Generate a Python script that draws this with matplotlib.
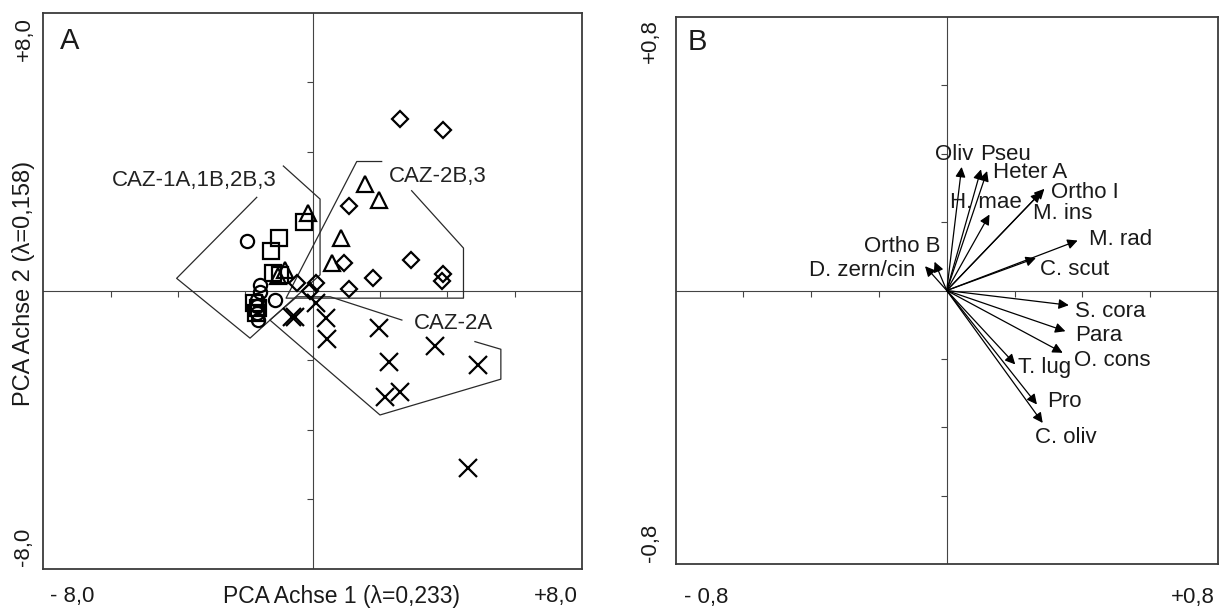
import matplotlib
matplotlib.use("Agg")
import matplotlib.pyplot as plt
from matplotlib.markers import TICKDOWN, TICKLEFT

plt.rcParams['font.family'] = ['Liberation Sans', 'DejaVu Sans']

# ---------------- Panel A data (PCA sample scores) ----------------
circle_x = [-1.96, -1.56, -1.56, -1.66, -1.66, -1.66, -1.61, -1.12]
circle_y = [1.44, 0.17, -0.02, -0.26, -0.45, -0.64, -0.84, -0.26]

square_x = [-0.25, -1.00, -1.24, -1.17, -0.97, -1.75, -1.63, -1.69]
square_y = [1.97, 1.51, 1.15, 0.51, 0.46, -0.35, -0.49, -0.64]

triangle_x = [1.56, 1.97, 0.83, 0.57, -0.13, -0.82, -1.03]
triangle_y = [3.07, 2.61, 1.53, 0.79, 2.23, 0.60, 0.43]

diamond_x = [2.58, 3.88, 1.08, 0.94, 2.92, 1.80, 3.88, 3.83, 1.08, -0.47, 0.09, -0.08]
diamond_y = [4.94, 4.63, 2.44, 0.79, 0.89, 0.38, 0.48, 0.27, 0.05, 0.22, 0.22, 0.00]

cross_x = [-0.62, -0.52, 0.09, 0.39, 0.42, 1.98, 3.64, 4.92, 2.28, 2.15, 2.60, 4.62]
cross_y = [-0.74, -0.74, -0.36, -0.79, -1.39, -1.08, -1.60, -2.13, -2.04, -3.04, -2.90, -5.10]

# group outlines (open hulls, gap where the label sits)
hull_1_x = [-1.66, -4.04, -1.86, 0.22, 0.22, -0.87]
hull_1_y = [2.69, 0.36, -1.36, 0.46, 2.64, 3.59]
hull_2_x = [2.05, 1.31, -0.79, 4.48, 4.48, 2.94]
hull_2_y = [3.72, 3.72, -0.21, -0.21, 1.23, 2.88]
hull_3_x = [2.65, 0.52, -0.47, -1.27, 2.00, 5.59, 5.59, 4.82]
hull_3_y = [-0.84, -0.17, -0.17, -0.84, -3.57, -2.54, -1.68, -1.46]

group_labels = ["CAZ-1A,1B,2B,3", "CAZ-2B,3", "CAZ-2A"]
group_label_x = [-5.96, 2.27, 3.01]
group_label_y = [3.16, 3.30, -0.95]

# ---------------- Panel B data (species loadings) ----------------
species = ["Oliv", "Pseu", "Heter A", "H. mae", "Ortho I", "M. ins", "M. rad",
           "C. scut", "Ortho B", "D. zern/cin", "S. cora", "Para", "O. cons",
           "T. lug", "Pro", "C. oliv"]
load_x = [0.044, 0.101, 0.119, 0.126, 0.288, 0.278, 0.386, 0.263, -0.036, -0.064,
          0.360, 0.350, 0.342, 0.202, 0.266, 0.283]
load_y = [0.361, 0.354, 0.349, 0.222, 0.297, 0.287, 0.146, 0.095, 0.084, 0.071,
          -0.043, -0.119, -0.182, -0.216, -0.333, -0.387]
label_x = [-0.036, 0.097, 0.136, 0.009, 0.307, 0.254, 0.420, 0.274, -0.245, -0.405,
           0.378, 0.378, 0.375, 0.209, 0.295, 0.259]
label_y = [0.397, 0.397, 0.344, 0.256, 0.285, 0.225, 0.148, 0.061, 0.128, 0.059,
           -0.060, -0.131, -0.205, -0.226, -0.325, -0.430]

ticks_A = [-6, -4, -2, 2, 4, 6]
ticks_B = [-0.6, -0.4, -0.2, 0.2, 0.4, 0.6]

FS = 16
TXT = '#1a1a1a'
W, H = 1219, 610
fig = plt.figure(figsize=(W / 100, H / 100), dpi=100)
fig.patch.set_facecolor('white')

axA = fig.add_axes([43.3 / W, 1 - 569 / H, (582 - 43.3) / W, (569 - 12.7) / H])
axB = fig.add_axes([675.5 / W, 1 - 564.3 / H, (1218 - 675.5) / W, (564.3 - 16.7) / H])


def frame(ax, lim, ticks):
    ax.set_xlim(-lim, lim)
    ax.set_ylim(-lim, lim)
    ax.set_xticks([])
    ax.set_yticks([])
    for s in ax.spines.values():
        s.set_color('#3a3a3a')
        s.set_linewidth(1.3)
    ax.axhline(0, color='#444444', lw=0.8, zorder=1)
    ax.axvline(0, color='#444444', lw=0.8, zorder=1)
    ax.plot(ticks, [0] * len(ticks), ls='none', marker=TICKDOWN, ms=4,
            mew=0.8, color='#444444', zorder=1)
    ax.plot([0] * len(ticks), ticks, ls='none', marker=TICKLEFT, ms=4,
            mew=0.8, color='#444444', zorder=1)


frame(axA, 8, ticks_A)
frame(axB, 0.8, ticks_B)

# ---- Panel A ----
for hx, hy in [(hull_1_x, hull_1_y), (hull_2_x, hull_2_y), (hull_3_x, hull_3_y)]:
    axA.plot(hx, hy, color='#2a2a2a', lw=0.9, zorder=2)

mk = dict(ls='none', mfc='none', mec='black', mew=1.6, zorder=3)
axA.plot(circle_x, circle_y, marker='o', ms=9.5, **mk)
axA.plot(square_x, square_y, marker='s', ms=12, **mk)
axA.plot(triangle_x, triangle_y, marker='^', ms=11.5, **mk)
axA.plot(diamond_x, diamond_y, marker='D', ms=7.8, **mk)
axA.plot(cross_x, cross_y, marker='x', ms=12.5, **mk)

for t, x, y in zip(group_labels, group_label_x, group_label_y):
    axA.text(x, y, t, fontsize=FS, ha='left', va='center', color='#222222')

axA.text(0.031, 0.949, "A", transform=axA.transAxes, fontsize=21,
         ha='left', va='center', color=TXT)
axA.text(0.012, -0.05, "- 8,0", transform=axA.transAxes, fontsize=FS,
         ha='left', va='center', color=TXT)
axA.text(0.9926, -0.05, "+8,0", transform=axA.transAxes, fontsize=FS,
         ha='right', va='center', color=TXT)
axA.text(0.554, -0.05, "PCA Achse 1 (\u03bb=0,233)", transform=axA.transAxes,
         fontsize=16.5, ha='center', va='center', color=TXT)
axA.text(-0.036, 0.992, "+8,0", transform=axA.transAxes, fontsize=FS,
         ha='center', va='top', rotation=90, color=TXT)
axA.text(-0.036, 0.005, "-8,0", transform=axA.transAxes, fontsize=FS,
         ha='center', va='bottom', rotation=90, color=TXT)
axA.text(-0.036, 0.514, "PCA Achse 2 (\u03bb=0,158)", transform=axA.transAxes,
         fontsize=17, ha='center', va='center', rotation=90, color=TXT)

# ---- Panel B ----
for x, y in zip(load_x, load_y):
    axB.annotate("", xy=(x, y), xytext=(0, 0),
                 arrowprops=dict(arrowstyle='-|>', color='black', lw=0.9,
                                 mutation_scale=15, shrinkA=0, shrinkB=0),
                 zorder=3)
for t, x, y in zip(species, label_x, label_y):
    axB.text(x, y, t, fontsize=FS, ha='left', va='center', zorder=4, color=TXT)

axB.text(0.023, 0.954, "B", transform=axB.transAxes, fontsize=21,
         ha='left', va='center', color=TXT)
axB.text(0.016, -0.06, "- 0,8", transform=axB.transAxes, fontsize=FS,
         ha='left', va='center', color=TXT)
axB.text(0.9945, -0.06, "+0,8", transform=axB.transAxes, fontsize=FS,
         ha='right', va='center', color=TXT)
axB.text(-0.047, 0.996, "+0,8", transform=axB.transAxes, fontsize=FS,
         ha='center', va='top', rotation=90, color=TXT)
axB.text(-0.047, 0.004, "-0,8", transform=axB.transAxes, fontsize=FS,
         ha='center', va='bottom', rotation=90, color=TXT)

fig.savefig("out.png", dpi=100, facecolor='white')
